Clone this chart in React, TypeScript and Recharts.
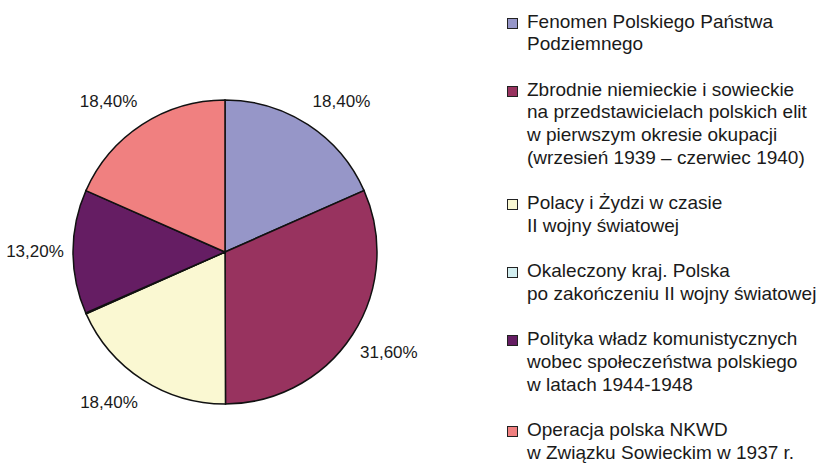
import React from "react";
import { PieChart, Pie, Cell, Legend } from "recharts";

const categories = [
  "Fenomen Polskiego Państwa\nPodziemnego",
  "Zbrodnie niemieckie i sowieckie\nna przedstawicielach polskich elit\nw pierwszym okresie okupacji\n(wrzesień 1939 – czerwiec 1940)",
  "Polacy i Żydzi w czasie\nII wojny światowej",
  "Okaleczony kraj. Polska\npo zakończeniu II wojny światowej",
  "Polityka władz komunistycznych\nwobec społeczeństwa polskiego\nw latach 1944-1948",
  "Operacja polska NKWD\nw Związku Sowieckim w 1937 r.",
];
const values = [18.4, 31.6, 18.4, 0.1, 13.2, 18.4];
const colors = ["#9696C8", "#98335F", "#FAF8D2", "#D2EEF0", "#651D63", "#F08080"];

const data = categories.map((name, i) => ({ name, value: values[i] }));

const FONT = '"Liberation Sans", Arial, sans-serif';
const RAD = Math.PI / 180;

const renderLabel = (props: any) => {
  const { cx, cy, midAngle, outerRadius, value } = props;
  if (value < 1) return null;
  const c = Math.cos(-midAngle * RAD);
  const s = Math.sin(-midAngle * RAD);
  const R = outerRadius + 10;
  const sx = Math.abs(c) > 0.2 ? Math.sign(c) : 0;
  const sy = Math.abs(s) > 0.2 ? Math.sign(s) : 0;
  const x = cx + R * c + 28 * sx;
  const y = cy + (R + 8) * s + 8 * sy;
  return (
    <text
      x={x}
      y={y}
      textAnchor="middle"
      dominantBaseline="central"
      fontFamily={FONT}
      fontSize={17}
      fill="#1a1a1a"
    >
      {value.toFixed(2).replace(".", ",") + "%"}
    </text>
  );
};

const renderLegend = (props: any) => {
  const payload = [...(props.payload || [])].sort(
    (a: any, b: any) => categories.indexOf(a.value) - categories.indexOf(b.value)
  );
  return (
    <div style={{ fontFamily: FONT, fontSize: 19, lineHeight: "22.8px", color: "#1a1a1a" }}>
      {payload.map((entry: any, i: number) => (
        <div key={i} style={{ position: "relative", paddingLeft: 20, marginBottom: 22.5, whiteSpace: "pre-line" }}>
          <span
            style={{
              position: "absolute",
              left: 0,
              top: 7,
              width: 11,
              height: 11,
              background: entry.color,
              border: "1.5px solid #222",
              boxSizing: "border-box",
            }}
          />
          {entry.value}
        </div>
      ))}
    </div>
  );
};

export default function App() {
  return (
    <div style={{ position: "absolute", left: 0, top: 0, width: 823, height: 463, background: "#fff" }}>
      <PieChart width={823} height={463} margin={{ top: 0, right: 0, bottom: 0, left: 0 }}>
        <Pie
          data={data}
          dataKey="value"
          nameKey="name"
          cx={225}
          cy={252}
          outerRadius={152}
          startAngle={90}
          endAngle={-270}
          stroke="#111"
          strokeWidth={1.5}
          label={renderLabel}
          labelLine={false}
          isAnimationActive={false}
        >
          {data.map((d, i) => (
            <Cell key={i} fill={colors[i]} />
          ))}
        </Pie>
        <Legend
          layout="vertical"
          align="right"
          verticalAlign="top"
          content={renderLegend}
          wrapperStyle={{ left: 507, top: 10.5, width: 316, right: "auto" }}
        />
      </PieChart>
    </div>
  );
}
